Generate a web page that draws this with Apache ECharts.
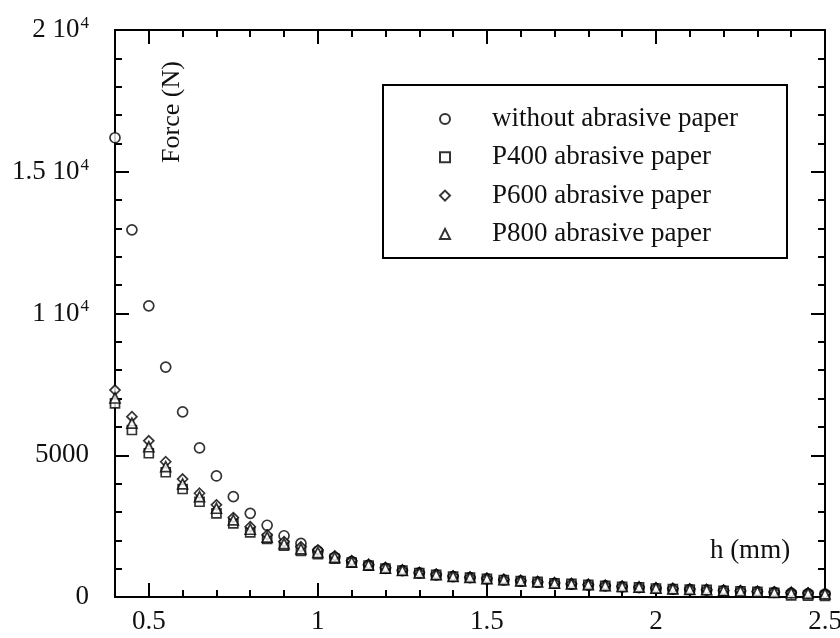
<!DOCTYPE html>
<html>
<head>
<meta charset="utf-8">
<title>Force vs h</title>
<script src="https://cdn.jsdelivr.net/npm/echarts@6/dist/echarts.min.js"></script>
<style>
  html, body { margin: 0; padding: 0; background: #fff; }
  #chart { width: 840px; height: 638px; }
</style>
</head>
<body>
<div id="chart"></div>
<script>
// Gap h (mm) at which the force was measured
const hValues = [0.40, 0.45, 0.50, 0.55, 0.60, 0.65, 0.70, 0.75, 0.80, 0.85,
                 0.90, 0.95, 1.00, 1.05, 1.10, 1.15, 1.20, 1.25, 1.30, 1.35,
                 1.40, 1.45, 1.50, 1.55, 1.60, 1.65, 1.70, 1.75, 1.80, 1.85,
                 1.90, 1.95, 2.00, 2.05, 2.10, 2.15, 2.20, 2.25, 2.30, 2.35,
                 2.40, 2.45, 2.50];

// Force (N) for each surface condition
const forceNoPaper = [16200, 12950, 10270, 8110, 6530, 5260, 4270, 3540, 2950, 2530,
                      2160, 1890, 1620, 1400, 1250, 1120, 1010, 930, 850, 780,
                      720, 680, 640, 600, 560, 520, 480, 450, 420, 390,
                      360, 330, 300, 280, 260, 240, 220, 200, 180, 160,
                      140, 120, 100];
const forceP400 = [6830, 5890, 5070, 4400, 3810, 3360, 2950, 2600, 2280, 2050,
                   1810, 1630, 1510, 1350, 1210, 1110, 1000, 930, 840, 780,
                   720, 680, 640, 600, 560, 530, 480, 460, 430, 390,
                   360, 340, 300, 280, 260, 250, 220, 200, 180, 150,
                   60, 50, 40];
const forceP600 = [7300, 6360, 5510, 4770, 4160, 3660, 3250, 2800, 2480, 2190,
                   1950, 1770, 1660, 1450, 1280, 1150, 1040, 950, 860, 800,
                   740, 700, 660, 620, 580, 540, 500, 470, 440, 410,
                   380, 350, 320, 300, 280, 260, 240, 220, 200, 180,
                   160, 140, 120];
const forceP800 = [7020, 6130, 5300, 4600, 3990, 3540, 3130, 2720, 2390, 2110,
                   1880, 1700, 1570, 1400, 1240, 1130, 1020, 940, 850, 790,
                   730, 690, 650, 610, 570, 535, 490, 465, 435, 400,
                   370, 345, 310, 290, 270, 255, 230, 210, 190, 165,
                   150, 130, 110];

const seriesNames = ['without abrasive paper', 'P400 abrasive paper',
                     'P600 abrasive paper', 'P800 abrasive paper'];
const seriesSymbols = ['circle', 'rect', 'diamond', 'triangle'];

// Axis ticks and labels
const xMajorTicks = [0.5, 1, 1.5, 2, 2.5];
const xMinorTicks = [0.4, 0.6, 0.7, 0.8, 0.9, 1.1, 1.2, 1.3, 1.4, 1.6, 1.7, 1.8, 1.9,
                     2.1, 2.2, 2.3, 2.4];
const yTickValues = [0, 5000, 10000, 15000, 20000];
const yTickMantissa = ['0', '5000', '1 10', '1.5 10', '2 10'];
const yTickExponent = ['', '', '4', '4', '4'];

const FONT = 'Liberation Serif';
const X_MIN = 0.4, X_MAX = 2.5, Y_MIN = 0, Y_MAX = 20000;

const chart = echarts.init(document.getElementById('chart'), null, { renderer: 'canvas' });

const lineStyle = { color: '#000', width: 2 };

function xAxisDef(position, ticks, len, withLabels) {
  return {
    type: 'value', position: position, min: X_MIN, max: X_MAX,
    axisLine: { show: true, onZero: false, lineStyle: lineStyle },
    axisTick: { show: true, inside: true, length: len, customValues: ticks,
                lineStyle: { color: '#000', width: 2 } },
    axisLabel: withLabels ? {
      show: true, customValues: xMajorTicks, margin: 11,
      fontFamily: FONT, fontSize: 27, color: '#111',
      formatter: v => String(v)
    } : { show: false },
    splitLine: { show: false }
  };
}

function yAxisDef(position, withLabels) {
  return {
    type: 'value', position: position, min: Y_MIN, max: Y_MAX, interval: 5000,
    axisLine: { show: true, onZero: false, lineStyle: lineStyle },
    axisTick: { show: true, inside: true, length: 14, lineStyle: { color: '#000', width: 2 } },
    minorTick: { show: true, splitNumber: 5, length: 7, lineStyle: { color: '#000', width: 2 } },
    axisLabel: withLabels ? {
      show: true, margin: 26, fontFamily: FONT, color: '#111',
      formatter: function (v) {
        const i = yTickValues.indexOf(v);
        if (i < 0) return '';
        return yTickExponent[i]
          ? '{m|' + yTickMantissa[i] + '}{s|' + yTickExponent[i] + '}'
          : '{m|' + yTickMantissa[i] + '}';
      },
      rich: {
        m: { fontFamily: FONT, fontSize: 27, lineHeight: 30, color: '#111' },
        s: { fontFamily: FONT, fontSize: 17, lineHeight: 17, verticalAlign: 'top',
             color: '#111', padding: [0, 0, 0, 1] }
      }
    } : { show: false },
    splitLine: { show: false },
    minorSplitLine: { show: false }
  };
}

const markerSizes = [10, 9, 10, 10];
const seriesData = [forceNoPaper, forceP400, forceP600, forceP800];

const option = {
  backgroundColor: '#fff',
  animation: false,
  grid: { left: 115, right: 15, top: 30, bottom: 41, containLabel: false, outerBoundsMode: 'none' },
  xAxis: [
    xAxisDef('bottom', xMajorTicks, 14, true),
    xAxisDef('bottom', xMinorTicks, 7, false),
    xAxisDef('top', xMajorTicks, 14, false),
    xAxisDef('top', xMinorTicks, 7, false)
  ],
  yAxis: [
    yAxisDef('left', true),
    yAxisDef('right', false)
  ],
  legend: {
    orient: 'vertical',
    left: 439, top: 104, padding: 0,
    itemWidth: 10, itemHeight: 10, itemGap: 8.3,
    data: seriesNames.map((n, i) => ({ name: n, icon: seriesSymbols[i] })),
    textStyle: { fontFamily: FONT, fontSize: 27, lineHeight: 30, color: '#111',
                 padding: [0, 0, 0, 37] },
    selectedMode: false
  },
  graphic: [
    { type: 'rect', shape: { x: 383, y: 85, width: 404, height: 173 },
      style: { fill: 'none', stroke: '#000', lineWidth: 2 }, z: 10 },
    { type: 'text', x: 172, y: 112, rotation: Math.PI / 2,
      style: { text: 'Force (N)', font: '26px "Liberation Serif"', fill: '#111',
               align: 'center', verticalAlign: 'middle' } },
    { type: 'text', x: 750, y: 551,
      style: { text: 'h (mm)', font: '27px "Liberation Serif"', fill: '#111',
               align: 'center', verticalAlign: 'middle' } }
  ],
  series: seriesNames.map((name, i) => ({
    name: name,
    type: 'scatter',
    xAxisIndex: 0, yAxisIndex: 0,
    symbol: seriesSymbols[i],
    symbolSize: markerSizes[i],
    itemStyle: { color: '#fff', borderColor: '#000', borderWidth: 1.7 },
    data: hValues.map((h, k) => [h, seriesData[i][k]])
  }))
};

chart.setOption(option);
</script>
</body>
</html>
